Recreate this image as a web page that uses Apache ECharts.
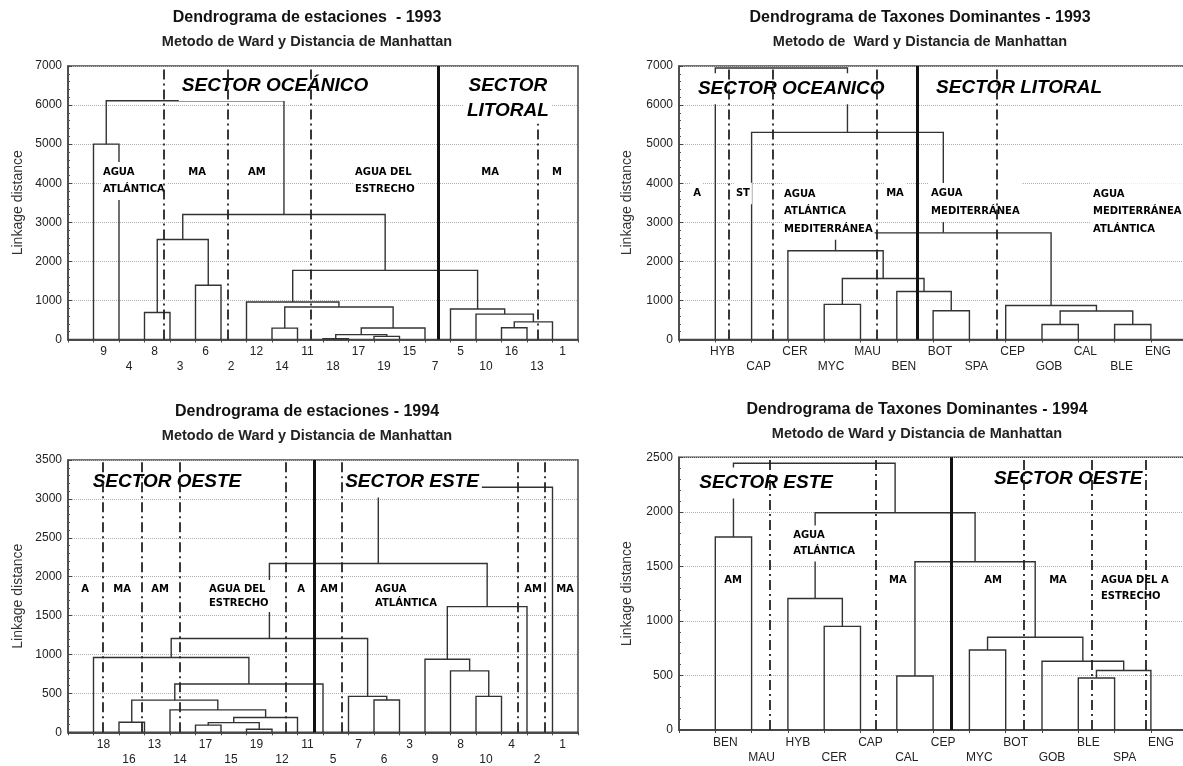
<!DOCTYPE html>
<html>
<head>
<meta charset="utf-8">
<title>Dendrogramas 1993 - 1994</title>
<script src="https://cdn.jsdelivr.net/npm/echarts@6/dist/echarts.min.js"></script>
<style>
  html, body { margin: 0; padding: 0; background: #fff; }
  #main { width: 1183px; height: 766px; }
</style>
</head>
<body>
<div id="main"></div>
<script>
// leaf order on the x axis, then merges as [left, right, linkage distance]
// a string is a leaf, a number points to an earlier merge in the same list
var est93Leaves = ['9', '4', '8', '3', '6', '2', '12', '14', '11', '18', '17', '19', '15', '7', '5', '10', '16', '13', '1'];
var est93Merges = [
  ['9', '4', 5000], ['8', '3', 690], ['6', '2', 1390], [1, 2, 2560],
  ['18', '17', 20], ['19', '15', 80], [4, 5, 125], [6, '7', 295],
  ['14', '11', 290], [8, 7, 830], ['12', 9, 960],
  ['16', '13', 300], [11, '1', 450], ['10', 12, 650], ['5', 13, 780],
  [10, 14, 1770], [3, 15, 3200], [0, 16, 6110]
];

var tax93Leaves = ['HYB', 'CAP', 'CER', 'MYC', 'MAU', 'BEN', 'BOT', 'SPA', 'CEP', 'GOB', 'CAL', 'BLE', 'ENG'];
var tax93Merges = [
  ['MYC', 'MAU', 900], ['BOT', 'SPA', 735], ['BEN', 1, 1230], [0, 2, 1560],
  ['CER', 3, 2270], ['GOB', 'CAL', 385], ['BLE', 'ENG', 385], [5, 6, 730],
  ['CEP', 7, 870], [4, 8, 2730], ['CAP', 9, 5300], ['HYB', 10, 6950]
];

var est94Leaves = ['18', '16', '13', '14', '17', '15', '19', '12', '11', '5', '7', '6', '3', '9', '8', '10', '4', '2', '1'];
var est94Merges = [
  ['16', '13', 130], ['17', '15', 92], ['19', '12', 40], [1, 2, 125],
  [3, '11', 190], ['14', 4, 288], [0, 5, 413], [6, '5', 620],
  ['18', 7, 962], ['6', '3', 415], ['7', 9, 462], [8, 10, 1205],
  ['10', '4', 462], ['8', 12, 790], ['9', 13, 938], [14, '2', 1615],
  [11, 15, 2170], [16, '1', 3150]
];

var tax94Leaves = ['BEN', 'MAU', 'HYB', 'CER', 'CAP', 'CAL', 'CEP', 'MYC', 'BOT', 'GOB', 'BLE', 'SPA', 'ENG'];
var tax94Merges = [
  ['BEN', 'MAU', 1770], ['CER', 'CAP', 950], ['HYB', 1, 1205], ['CAL', 'CEP', 495],
  ['MYC', 'BOT', 733], ['BLE', 'SPA', 477], [5, 'ENG', 545], ['GOB', 6, 630],
  [4, 7, 850], [3, 8, 1543], [2, 9, 1992], [0, 10, 2445]
];

// sector dividers: dash-dot [x, top], thick solid x (axis units)
var est93Dash = [[3.76, 7000], [6.27, 7000], [9.53, 7000], [18.43, 5520]];
var est93Thick = [14.51];
var tax93Dash = [[1.38, 7000], [2.59, 7000], [5.45, 7000], [8.76, 7000]];
var tax93Thick = [6.56];
var est94Dash = [[1.37, 3500], [2.9, 3500], [4.39, 3500], [8.55, 3500], [10.75, 3500], [17.65, 3500], [18.7, 3500]];
var est94Thick = [9.65];
var tax94Dash = [[2.51, 2500], [5.43, 2500], [9.5, 2500], [11.38, 2500], [12.87, 2500]];
var tax94Thick = [7.49];

// text placed inside the plots: [text, x, y, align]
var est93Sectors = [['SECTOR OCEÁNICO', 8.12, 6500, 'center'], ['SECTOR\nLITORAL', 17.25, 6170, 'center']];
var est93Zones = [
  ['AGUA\nATLÁNTICA', 1.29, 4056, 'left'], ['MA', 5.06, 4270, 'center'], ['AM', 7.41, 4270, 'center'],
  ['AGUA DEL\nESTRECHO', 11.18, 4056, 'left'], ['MA', 16.55, 4270, 'center'], ['M', 19.18, 4270, 'center']
];
var tax93Sectors = [['SECTOR OCEANICO', 3.09, 6416, 'center'], ['SECTOR LITORAL', 9.37, 6441, 'center']];
var tax93Zones = [
  ['A', 0.5, 3737, 'center'], ['ST', 1.76, 3737, 'center'],
  ['AGUA\nATLÁNTICA\nMEDITERRÁNEA', 2.84, 3278, 'left'], ['MA', 5.95, 3737, 'center'],
  ['AGUA\nMEDITERRÁNEA', 6.89, 3508, 'left'], ['AGUA\nMEDITERRÁNEA\nATLÁNTICA', 11.35, 3278, 'left']
];
var est94Sectors = [['SECTOR OESTE', 3.88, 3217, 'center'], ['SECTOR ESTE', 13.49, 3217, 'center']];
var est94Zones = [
  ['A', 0.67, 1842, 'center'], ['MA', 2.12, 1842, 'center'], ['AM', 3.61, 1842, 'center'],
  ['AGUA DEL\nESTRECHO', 5.45, 1752, 'left'], ['A', 9.14, 1842, 'center'], ['AM', 10.24, 1842, 'center'],
  ['AGUA\nATLÁNTICA', 11.96, 1752, 'left'], ['AM', 18.24, 1842, 'center'], ['MA', 19.49, 1842, 'center']
];
var tax94Sectors = [['SECTOR ESTE', 2.4, 2264, 'center'], ['SECTOR OESTE', 10.72, 2300, 'center']];
var tax94Zones = [
  ['AM', 1.49, 1375, 'center'], ['AGUA\nATLÁNTICA', 3.09, 1709, 'left'], ['MA', 6.03, 1375, 'center'],
  ['AM', 8.65, 1375, 'center'], ['MA', 10.44, 1375, 'center'], ['AGUA DEL A\nESTRECHO', 11.57, 1297, 'left']
];

var FONT = 'Liberation Sans';

var panels = [
  { leaves: est93Leaves, merges: est93Merges, yMax: 7000, yStep: 1000,
    grid: { left: 68, top: 66, width: 510, height: 273.5 },
    title: 'Dendrograma de estaciones  - 1993', sub: 'Metodo de Ward y Distancia de Manhattan', tx: 307, ty: 10,
    dash: est93Dash, thick: est93Thick, sectors: est93Sectors, zones: est93Zones,
    zoneLine: 17, shift: 20, nameGap: 43 },
  { leaves: tax93Leaves, merges: tax93Merges, yMax: 7000, yStep: 1000,
    grid: { left: 679, top: 66, width: 508.2, height: 273.5 },
    title: 'Dendrograma de Taxones Dominantes - 1993', sub: 'Metodo de  Ward y Distancia de Manhattan', tx: 920, ty: 10,
    dash: tax93Dash, thick: tax93Thick, sectors: tax93Sectors, zones: tax93Zones,
    zoneLine: 17.5, shift: 14, nameGap: 45 },
  { leaves: est94Leaves, merges: est94Merges, yMax: 3500, yStep: 500,
    grid: { left: 68, top: 460, width: 510, height: 272.3 },
    title: 'Dendrograma de estaciones - 1994', sub: 'Metodo de Ward y Distancia de Manhattan', tx: 307, ty: 404,
    dash: est94Dash, thick: est94Thick, sectors: est94Sectors, zones: est94Zones,
    zoneLine: 14, shift: 20, nameGap: 43 },
  { leaves: tax94Leaves, merges: tax94Merges, yMax: 2500, yStep: 500,
    grid: { left: 679, top: 457.3, width: 508.2, height: 272.7 },
    title: 'Dendrograma de Taxones Dominantes - 1994', sub: 'Metodo de Ward y Distancia de Manhattan', tx: 917, ty: 402,
    dash: tax94Dash, thick: tax94Thick, sectors: tax94Sectors, zones: tax94Zones,
    zoneLine: 16, shift: 20, nameGap: 45 }
];

// turn merges into U-shaped links, parent sits midway between its children
function buildLinks(leaves, merges) {
  var pos = [], hgt = [], out = [];
  function node(ref) {
    if (typeof ref === 'number') return [pos[ref], hgt[ref]];
    return [leaves.indexOf(ref) + 1, 0];
  }
  merges.forEach(function (m, i) {
    var a = node(m[0]), b = node(m[1]);
    out.push({ coords: [[a[0], a[1]], [a[0], m[2]], [b[0], m[2]], [b[0], b[1]]] });
    pos[i] = (a[0] + b[0]) / 2;
    hgt[i] = m[2];
  });
  return out;
}

function textItems(list) {
  return list.map(function (t) {
    return { name: t[0], value: [t[1], t[2]], label: { align: t[3] } };
  });
}

var titles = [], grids = [], xAxes = [], yAxes = [], series = [];

panels.forEach(function (p, i) {
  var n = p.leaves.length;

  titles.push({
    text: p.title, subtext: p.sub, left: p.tx, top: p.ty, textAlign: 'center',
    padding: 0, itemGap: 8,
    textStyle: { fontFamily: FONT, fontSize: 16, fontWeight: 'bold', color: '#111' },
    subtextStyle: { fontFamily: FONT, fontSize: 14.5, fontWeight: 'bold', color: '#222' }
  });

  grids.push({
    left: p.grid.left, top: p.grid.top, width: p.grid.width, height: p.grid.height,
    outerBoundsMode: 'none', containLabel: false,
    show: true, borderColor: '#444', borderWidth: 1.5, backgroundColor: '#fff'
  });

  xAxes.push({
    gridIndex: i, type: 'value', min: 0, max: n + 1, interval: 1,
    axisLine: { show: true, onZero: false, lineStyle: { color: '#444', width: 1.5 } },
    axisTick: { show: false },
    splitLine: { show: false },
    axisLabel: {
      fontFamily: FONT, fontSize: 12, color: '#222', margin: 5, lineHeight: 15,
      padding: [0, 0, 0, p.shift],
      showMinLabel: true, showMaxLabel: true,
      formatter: (function (leaves) {
        return function (v) {
          var k = Math.round(v);
          if (k < 1 || k > leaves.length) return '';
          return (k % 2 === 0 ? '\n' : '') + leaves[k - 1];
        };
      })(p.leaves)
    }
  });
  xAxes.push({
    gridIndex: i, type: 'value', position: 'top', min: 0, max: n + 1, interval: 1,
    axisLine: { show: true, lineStyle: { color: '#444', width: 1.5 } },
    axisTick: { show: true, inside: true, length: 3, lineStyle: { color: '#444' } },
    axisLabel: { show: false },
    splitLine: { show: false }
  });

  yAxes.push({
    gridIndex: i, type: 'value', min: 0, max: p.yMax, interval: p.yStep,
    name: 'Linkage distance', nameLocation: 'middle', nameGap: p.nameGap,
    nameTextStyle: { fontFamily: FONT, fontSize: 14, color: '#333' },
    axisLine: { show: true, lineStyle: { color: '#444', width: 1.5 } },
    axisTick: { show: true, inside: true, length: 4, lineStyle: { color: '#444' } },
    minorTick: { show: true, splitNumber: 5, length: 2, lineStyle: { color: '#555' } },
    splitLine: { show: true, lineStyle: { type: 'dotted', color: '#b0b0b0', width: 1 } },
    axisLabel: {
      fontFamily: FONT, fontSize: 12, color: '#222', margin: 6,
      formatter: function (v) { return String(v); }
    }
  });

  series.push({
    type: 'lines', coordinateSystem: 'cartesian2d', xAxisIndex: 2 * i, yAxisIndex: i,
    polyline: true, silent: true, z: 2,
    lineStyle: { color: '#333', width: 1.4, opacity: 1 },
    data: buildLinks(p.leaves, p.merges)
  });

  series.push({
    type: 'scatter', xAxisIndex: 2 * i, yAxisIndex: i, symbolSize: 0, silent: true, z: 3,
    itemStyle: { opacity: 1 },
    label: {
      show: true, position: 'inside', formatter: '{b}', verticalAlign: 'middle',
      fontFamily: FONT, fontSize: 19, fontWeight: 'bold', fontStyle: 'italic', color: '#000',
      opacity: 1, lineHeight: 25, backgroundColor: '#fff', padding: [3, 3]
    },
    data: textItems(p.sectors)
  });

  series.push({
    type: 'scatter', xAxisIndex: 2 * i, yAxisIndex: i, symbolSize: 0, silent: true, z: 3,
    itemStyle: { opacity: 1 },
    label: {
      show: true, position: 'inside', formatter: '{b}', verticalAlign: 'middle',
      fontFamily: 'DejaVu Sans', fontSize: 10, fontWeight: 'bold', color: '#000',
      opacity: 1, lineHeight: p.zoneLine, backgroundColor: '#fff', padding: [2, 2]
    },
    data: textItems(p.zones)
  });

  series.push({
    type: 'lines', coordinateSystem: 'cartesian2d', xAxisIndex: 2 * i, yAxisIndex: i,
    silent: true, z: 4,
    lineStyle: { color: '#222', width: 1.8, type: [10, 4, 2, 4], opacity: 1 },
    data: p.dash.map(function (d) { return { coords: [[d[0], 0], [d[0], d[1]]] }; })
  });

  series.push({
    type: 'lines', coordinateSystem: 'cartesian2d', xAxisIndex: 2 * i, yAxisIndex: i,
    silent: true, z: 4,
    lineStyle: { color: '#111', width: 3, opacity: 1 },
    data: p.thick.map(function (x) { return { coords: [[x, 0], [x, p.yMax]] }; })
  });
});

var chart = echarts.init(document.getElementById('main'));
chart.setOption({
  backgroundColor: '#fff',
  animation: false,
  title: titles,
  grid: grids,
  xAxis: xAxes,
  yAxis: yAxes,
  series: series
});
</script>
</body>
</html>
